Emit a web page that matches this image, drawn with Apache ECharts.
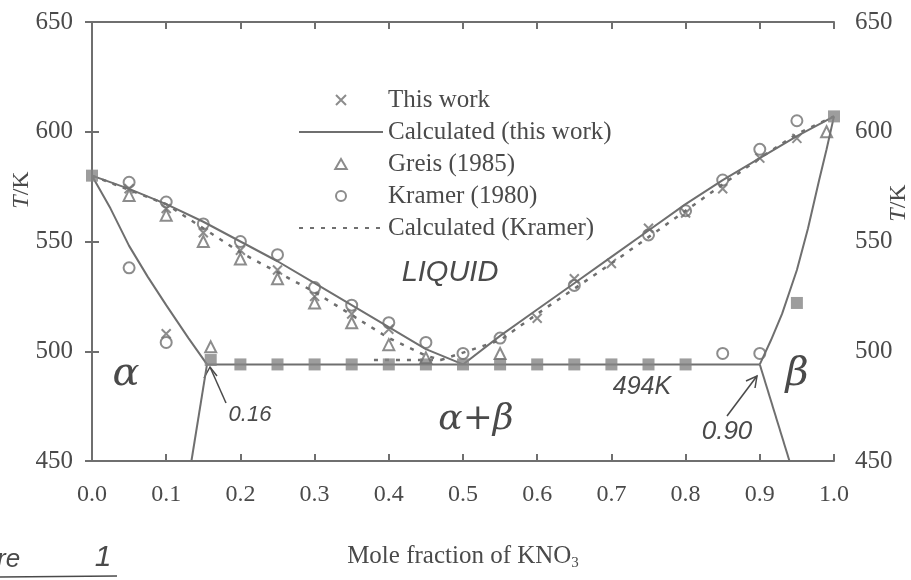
<!DOCTYPE html>
<html>
<head>
<meta charset="utf-8">
<title>NaNO3 - KNO3 phase diagram</title>
<script src="https://cdn.jsdelivr.net/npm/echarts@6/dist/echarts.min.js"></script>
<style>
  html, body { margin: 0; padding: 0; background: #fff; }
  #chart { width: 911px; height: 580px; }
</style>
</head>
<body>
<div id="chart"></div>
<script>
// x = mole fraction of KNO3, y = T / K
const xRange = [0, 1];
const yTicks = [450, 500, 550, 600, 650];

// calculated (this work) - solid lines
const liquidusLeft = [[0, 580], [0.05, 574], [0.1, 567], [0.15, 559], [0.2, 550], [0.25, 541], [0.3, 531], [0.35, 521], [0.4, 511], [0.45, 501], [0.5, 494]];
const liquidusRight = [[0.5, 494], [0.55, 507], [0.6, 519], [0.65, 531], [0.7, 543], [0.75, 555], [0.8, 567], [0.85, 578], [0.9, 588], [0.95, 598], [1, 607]];
const alphaSolidus = [[0, 580], [0.025, 565], [0.05, 548], [0.075, 534], [0.1, 521], [0.13, 506], [0.155, 494]];
const alphaSolvus = [[0.155, 494], [0.134, 450]];
const eutectic = [[0.155, 494], [0.9, 494]];
const betaSolidus = [[0.9, 494], [0.915, 505], [0.93, 517], [0.95, 537], [0.965, 556], [0.98, 578], [0.99, 592], [1, 607]];
const betaSolvus = [[0.9, 494], [0.94, 450]];

// calculated (Kramer) - dotted
const kramerCalcLeft = [[0, 580], [0.1, 567], [0.2, 545], [0.3, 527], [0.4, 506], [0.45, 498], [0.47, 496]];
const kramerCalcEut = [[0.38, 496], [0.47, 496]];
const kramerCalcRight = [[0.47, 496], [0.55, 505], [0.6, 517], [0.7, 540], [0.8, 564], [0.9, 588], [0.95, 599], [1, 607]];

// experimental points
const thisWork = [[0.05, 574], [0.1, 565], [0.15, 554], [0.2, 546], [0.25, 537], [0.3, 525], [0.35, 517], [0.4, 510], [0.1, 508],
  [0.6, 515], [0.65, 533], [0.7, 540], [0.75, 556], [0.8, 563], [0.85, 574], [0.9, 588], [0.95, 597]];
const greis = [[0.05, 571], [0.1, 562], [0.15, 550], [0.2, 542], [0.25, 533], [0.3, 522], [0.35, 513], [0.4, 503], [0.45, 497],
  [0.16, 502], [0.55, 499], [0.99, 600]];
const kramer = [[0.05, 577], [0.1, 568], [0.15, 558], [0.2, 550], [0.25, 544], [0.3, 529], [0.35, 521], [0.4, 513], [0.45, 504], [0.5, 499],
  [0.05, 538], [0.1, 504], [0.55, 506], [0.65, 530], [0.75, 553], [0.8, 564], [0.85, 578], [0.9, 592], [0.95, 605], [0.85, 499], [0.9, 499]];
const arrests = [[0, 580], [1, 607], [0.16, 496], [0.2, 494], [0.25, 494], [0.3, 494], [0.35, 494], [0.4, 494], [0.45, 494], [0.5, 494],
  [0.55, 494], [0.6, 494], [0.65, 494], [0.7, 494], [0.75, 494], [0.8, 494], [0.95, 522]];

const grey = '#6f6f6f';
const txt = '#4a4a4a';
const serif = 'Liberation Serif';
const hand = 'Liberation Sans';
const noSymbol = { color: 'rgba(0,0,0,0)', borderWidth: 0 };
const triPath = 'path://M5,0L10,8.7L0,8.7Z';
const crossPath = 'path://M0,0L10,10M10,0L0,10';

let chart = echarts.init(document.getElementById('chart'));

function solid(data) {
  return {
    name: 'Calculated (this work)', type: 'line', data: data,
    symbol: 'none', silent: true, z: 2,
    lineStyle: { color: grey, width: 2 }, itemStyle: { color: grey }
  };
}
function dotted(data) {
  return {
    name: 'Calculated (Kramer)', type: 'line', data: data,
    symbol: 'none', silent: true, z: 2,
    lineStyle: { color: grey, width: 2.5, type: [4, 7] }, itemStyle: { color: grey }
  };
}

let axisCommon = {
  type: 'value',
  axisLine: { show: true, lineStyle: { color: grey, width: 2 } },
  axisTick: { show: true, inside: true, length: 7, lineStyle: { color: grey, width: 2 } },
  splitLine: { show: false }
};

let option = {
  backgroundColor: '#fff',
  animation: false,
  grid: { left: 92, right: 77, top: 22, bottom: 119 },
  legend: {
    orient: 'vertical', left: 298, top: 84, padding: 0, itemGap: 0,
    itemWidth: 84, itemHeight: 10, symbolKeepAspect: true,
    data: [
      { name: 'This work' },
      { name: 'Calculated (this work)', itemStyle: noSymbol },
      { name: 'Greis (1985)', icon: triPath },
      { name: 'Kramer (1980)' },
      { name: 'Calculated (Kramer)', itemStyle: noSymbol }
    ],
    textStyle: { fontFamily: serif, fontSize: 25, color: txt, lineHeight: 32 }
  },
  xAxis: [
    Object.assign({}, axisCommon, {
      min: xRange[0], max: xRange[1], interval: 0.1, position: 'bottom',
      axisLabel: { margin: 22, fontFamily: serif, fontSize: 24, color: txt, formatter: v => v.toFixed(1) }
    }),
    Object.assign({}, axisCommon, {
      min: xRange[0], max: xRange[1], interval: 0.1, position: 'top',
      axisLabel: { show: false }
    })
  ],
  yAxis: [
    Object.assign({}, axisCommon, {
      min: yTicks[0], max: yTicks[yTicks.length - 1], interval: 50, position: 'left',
      axisLabel: { margin: 19, fontFamily: serif, fontSize: 25, color: txt }
    }),
    Object.assign({}, axisCommon, {
      min: yTicks[0], max: yTicks[yTicks.length - 1], interval: 50, position: 'right',
      axisLabel: { margin: 21, fontFamily: serif, fontSize: 25, color: txt }
    })
  ],
  series: [
    solid(liquidusLeft), solid(liquidusRight), solid(alphaSolidus), solid(alphaSolvus),
    solid(eutectic), solid(betaSolidus), solid(betaSolvus),
    dotted(kramerCalcLeft), dotted(kramerCalcEut), dotted(kramerCalcRight),
    {
      name: 'arrests', type: 'scatter', data: arrests, symbol: 'rect', symbolSize: 12, z: 3,
      itemStyle: { color: '#858585' }
    },
    {
      name: 'Greis (1985)', type: 'scatter', data: greis, symbol: triPath, symbolSize: 11, z: 4,
      itemStyle: { color: 'rgba(255,255,255,0)', borderColor: grey, borderWidth: 2 }
    },
    {
      name: 'Kramer (1980)', type: 'scatter', data: kramer, symbol: 'circle', symbolSize: 11, z: 4,
      itemStyle: { color: 'rgba(255,255,255,0)', borderColor: grey, borderWidth: 2 }
    },
    {
      name: 'This work', type: 'scatter', data: thisWork, symbol: crossPath, symbolSize: 9, z: 5,
      itemStyle: { color: 'rgba(255,255,255,0)', borderColor: grey, borderWidth: 2 }
    }
  ],
  graphic: [
    // axis titles
    { type: 'text', x: 22, y: 190, rotation: Math.PI / 2,
      style: { text: '{i|T}/K', fill: txt, font: '24px ' + serif, align: 'center', verticalAlign: 'middle',
        rich: { i: { fontStyle: 'italic', fontFamily: serif, fontSize: 24 } } } },
    { type: 'text', x: 899, y: 203, rotation: Math.PI / 2,
      style: { text: '{i|T}/K', fill: txt, font: '24px ' + serif, align: 'center', verticalAlign: 'middle',
        rich: { i: { fontStyle: 'italic', fontFamily: serif, fontSize: 24 } } } },
    { type: 'text', x: 463, y: 556,
      style: { text: 'Mole fraction of KNO{s|3}', fill: txt, font: '25px ' + serif, align: 'center', verticalAlign: 'middle',
        rich: { s: { fontSize: 15, fontFamily: serif, padding: [14, 0, 0, 0] } } } },
    // handwritten notes
    { type: 'text', x: 450, y: 273, style: { text: 'LIQUID', fill: txt, font: 'italic 29px ' + hand, align: 'center', verticalAlign: 'middle' } },
    { type: 'text', x: 126, y: 375, style: { text: 'α', fill: txt, font: 'italic 40px DejaVu Serif', align: 'center', verticalAlign: 'middle' } },
    { type: 'text', x: 476, y: 420, style: { text: 'α+β', fill: txt, font: 'italic 36px DejaVu Serif', align: 'center', verticalAlign: 'middle' } },
    { type: 'text', x: 797, y: 375, style: { text: 'β', fill: txt, font: 'italic 40px DejaVu Serif', align: 'center', verticalAlign: 'middle' } },
    { type: 'text', x: 250, y: 415, style: { text: '0.16', fill: txt, font: 'italic 22px ' + hand, align: 'center', verticalAlign: 'middle' } },
    { type: 'text', x: 727, y: 432, style: { text: '0.90', fill: txt, font: 'italic 26px ' + hand, align: 'center', verticalAlign: 'middle' } },
    { type: 'text', x: 642, y: 387, style: { text: '494K', fill: txt, font: 'italic 25px ' + hand, align: 'center', verticalAlign: 'middle' } },
    { type: 'polyline', shape: { points: [[226, 403], [210, 367]] }, style: { stroke: txt, lineWidth: 1.5, fill: null } },
    { type: 'polyline', shape: { points: [[204, 378], [210, 367], [217, 376]] }, style: { stroke: txt, lineWidth: 1.5, fill: null } },
    { type: 'polyline', shape: { points: [[727, 416], [757, 376]] }, style: { stroke: txt, lineWidth: 1.5, fill: null } },
    { type: 'polyline', shape: { points: [[746, 381], [757, 376], [755, 388]] }, style: { stroke: txt, lineWidth: 1.5, fill: null } },
    // corner of the page label
    { type: 'text', x: -3, y: 560, style: { text: 're', fill: txt, font: 'italic 26px ' + hand, verticalAlign: 'middle' } },
    { type: 'text', x: 103, y: 558, style: { text: '1', fill: txt, font: 'italic 30px ' + hand, align: 'center', verticalAlign: 'middle' } },
    { type: 'polyline', shape: { points: [[0, 577], [117, 576]] }, style: { stroke: txt, lineWidth: 1.5, fill: null } }
  ]
};

chart.setOption(option);
</script>
</body>
</html>
